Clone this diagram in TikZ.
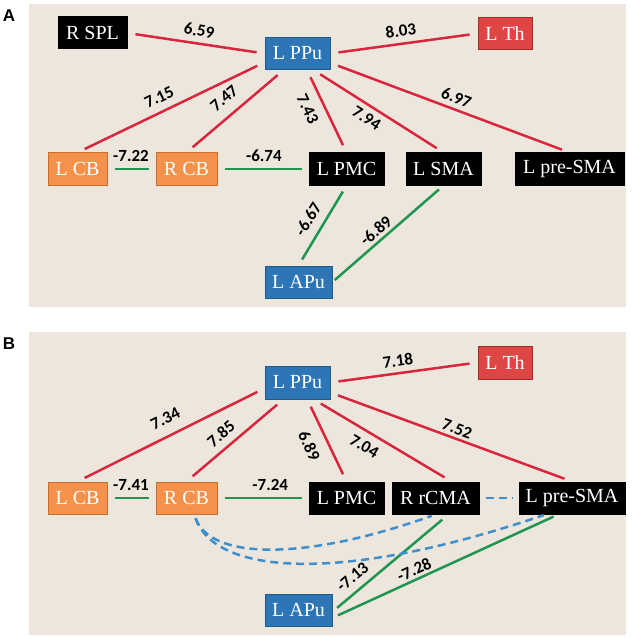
\documentclass[tikz,border=0pt]{standalone}
\usepackage{fontspec}
\setmainfont{Liberation Serif}
\newfontfamily\wtfont{Carlito}
\newfontfamily\panelfont{Liberation Sans}
\definecolor{bgbeige}{HTML}{EDE6DD}
\definecolor{nodeblue}{HTML}{2E75B6}
\definecolor{nodeblueline}{HTML}{1F5A8C}
\definecolor{nodeorange}{HTML}{F4914A}
\definecolor{nodeorangeline}{HTML}{C8702E}
\definecolor{nodered}{HTML}{DE4646}
\definecolor{noderedline}{HTML}{A52A2A}
\definecolor{linered}{HTML}{D7263D}
\definecolor{linegreen}{HTML}{1F9650}
\definecolor{lineblue}{HTML}{3F8FCD}

\begin{document}
\begin{tikzpicture}[x=1pt,y=-1pt,
 rgn/.style={draw,line width=1pt,inner sep=0pt,minimum height=32pt,text=white,font=\fontsize{20}{24}\selectfont},
 blk/.style={rgn,fill=black,draw=black},
 blu/.style={rgn,fill=nodeblue,draw=nodeblueline},
 org/.style={rgn,fill=nodeorange,draw=nodeorangeline},
 thal/.style={rgn,fill=nodered,draw=noderedline},
 poslink/.style={line width=2.5pt,draw=linered,shorten <=8pt,shorten >=8pt},
 neglink/.style={line width=2.5pt,draw=linegreen,shorten <=7pt,shorten >=7pt},
 dashlink/.style={line width=2.5pt,draw=lineblue,dash pattern=on 8pt off 5pt},
 wt/.style={font=\wtfont\bfseries\fontsize{17}{20}\selectfont,inner sep=1pt,sloped},
 panel/.style={font=\panelfont\bfseries\fontsize{17}{20}\selectfont}]
\useasboundingbox (0,0) rectangle (631,639);
\fill[bgbeige] (29,4) rectangle (626,307);
\fill[bgbeige] (29,332) rectangle (626,635);
\node[panel] (panA) at (9,15.5) {A};
\node[panel] (panB) at (9,343.5) {B};

\node[blk,minimum width=69pt] (rspl) at (92.5,33) {R SPL};
\node[blu,minimum width=65pt] (ppu) at (297.5,53.5) {L PPu};
\node[thal,minimum width=54pt] (lth) at (505,33.5) {L Th};
\node[org,minimum width=59pt] (lcb) at (77.5,169) {L CB};
\node[org,minimum width=61pt] (rcb) at (186.5,169) {R CB};
\node[blk,minimum width=75pt] (lpmc) at (346.5,169) {L PMC};
\node[blk,minimum width=75pt] (lsma) at (443.5,169) {L SMA};
\node[blk,minimum width=109pt] (lpre) at (569.5,169) {L pre-SMA};
\node[blu,minimum width=67pt] (apu) at (298.5,282) {L APu};

\draw[poslink] (rspl.east) -- node[wt,pos=.51,above=5pt] {6.59} (ppu.west);
\draw[poslink] (ppu.east) -- node[wt,pos=.49,above=5pt] {8.03} (lth.west);
\draw[poslink] (lcb.north) -- node[wt,pos=.47,above=6.5pt] {7.15} (ppu.195);
\draw[poslink] (rcb.north) -- node[wt,pos=.5,above=9pt] {7.47} (ppu.230);
\draw[poslink] (ppu.300) -- node[wt,pos=.39,below=8.5pt] {7.43} (lpmc.north);
\draw[poslink] (ppu.314) -- node[wt,pos=.46,below=4.5pt] {7.94} (lsma.north);
\draw[poslink] (ppu.344) -- node[wt,pos=.51,above=3.5pt] {6.97} (lpre.north);
\draw[neglink] (lcb.east) -- node[wt,pos=.49,above=5.5pt] {-7.22} (rcb.west);
\draw[neglink] (rcb.east) -- node[wt,pos=.51,above=5.5pt] {-6.74} (lpmc.west);
\draw[neglink] (apu.north) -- node[wt,pos=.48,above=7.5pt] {-6.67} (lpmc.south);
\draw[neglink,shorten <=3pt,shorten >=6pt] (apu.east) -- node[wt,pos=.45,above=2pt] {-6.89} (lsma.south);

\node[blu,minimum width=65pt,minimum height=33pt] (ppub) at (297.5,382.5) {L PPu};
\node[thal,minimum width=54pt,minimum height=33pt] (lthb) at (505,362.5) {L Th};
\node[org,minimum width=59pt] (lcbb) at (77.5,498) {L CB};
\node[org,minimum width=61pt] (rcbb) at (186.5,498) {R CB};
\node[blk,minimum width=75pt] (lpmcb) at (346.5,498) {L PMC};
\node[blk,minimum width=87pt] (rcmab) at (435.5,498) {R rCMA};
\node[blk,minimum width=106pt] (lpreb) at (572,498) {L pre-SMA};
\node[blu,minimum width=67pt] (apub) at (298.5,610) {L APu};

\draw[poslink] (ppub.east) -- node[wt,pos=.47,above=4.5pt] {7.18} (lthb.west);
\draw[poslink] (lcbb.north) -- node[wt,pos=.51,above=9pt] {7.34} (ppub.190);
\draw[poslink] (rcbb.north) -- node[wt,pos=.45,above=6pt] {7.85} (ppub.230);
\draw[poslink] (ppub.300) -- node[wt,pos=.47,below=10pt] {6.89} (lpmcb.north);
\draw[poslink] (ppub.314) -- node[wt,pos=.42,below=6.5pt] {7.04} (rcmab.46);
\draw[poslink] (ppub.343) -- node[wt,pos=.51,above=2pt] {7.52} (lpreb.north);
\draw[neglink] (lcbb.east) -- node[wt,pos=.49,above=5.5pt] {-7.41} (rcbb.west);
\draw[neglink] (rcbb.east) -- node[wt,pos=.58,above=5.5pt] {-7.24} (lpmcb.west);
\draw[neglink,shorten <=6pt,shorten >=8pt] (apub.357) -- node[wt,pos=.25,above=6pt] {-7.13} (rcmab.308);
\draw[neglink,shorten <=6pt,shorten >=5pt] (apub.347) -- node[wt,pos=.38,above=1.5pt] {-7.28} (lpreb.230);
\draw[dashlink,shorten <=6pt,shorten >=6pt] (rcmab.east) -- (lpreb.west);
\draw[dashlink,shorten <=4pt,shorten >=4pt] (rcbb.295) .. controls +(16,44) and +(-135.5,48) .. (rcmab.south);
\draw[dashlink,shorten <=4pt,shorten >=2pt] (rcbb.295) .. controls +(21,60) and +(-206,70) .. (lpreb.212);
\end{tikzpicture}
\end{document}
